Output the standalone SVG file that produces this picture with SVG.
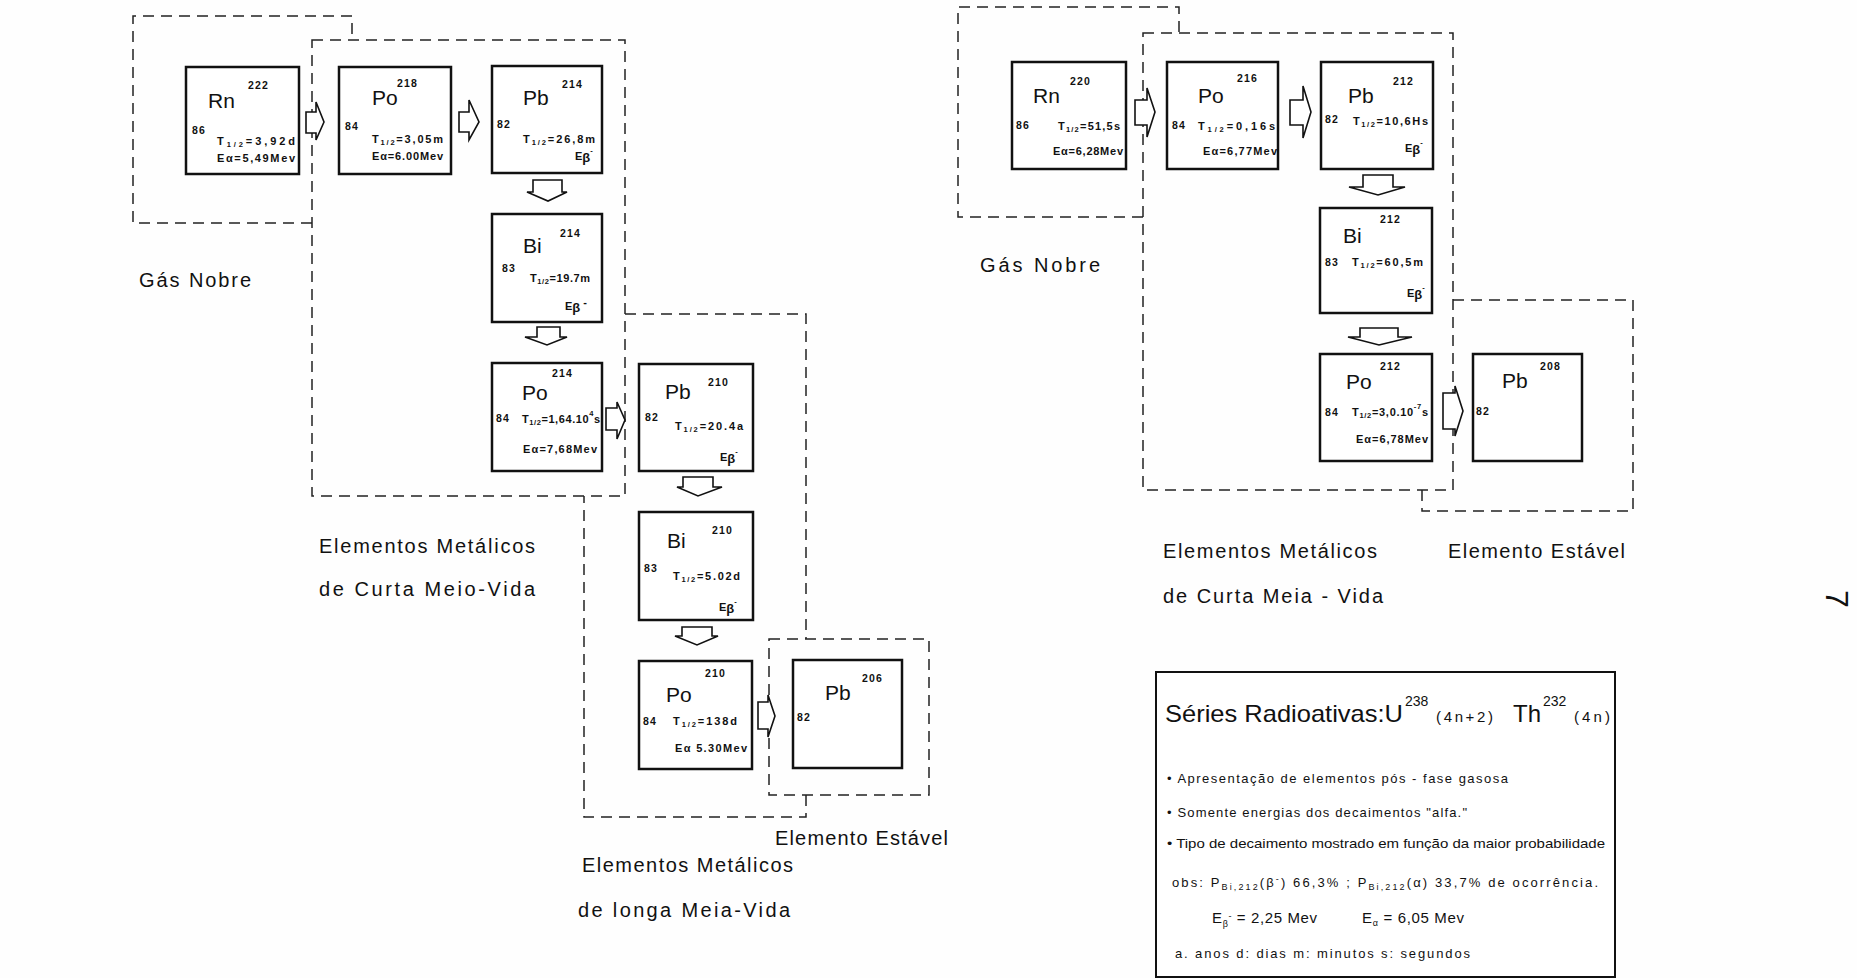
<svg xmlns="http://www.w3.org/2000/svg" width="1857" height="978" viewBox="0 0 1857 978">
<style>
text{font-family:"Liberation Sans",Arial,sans-serif;fill:#111}
.box{fill:#fff;stroke:#111;stroke-width:2.5}
.dash{fill:none;stroke:#222;stroke-width:1.5;stroke-dasharray:11 7}
.arr{fill:#fff;stroke:#111;stroke-width:1.6;stroke-linejoin:miter}
.sym{font-size:21px}
.m{font-size:10.5px;font-weight:bold;letter-spacing:1.2px}
.d{font-size:11px;font-weight:bold}
.e{font-size:11px;font-weight:bold}
.s{font-size:7.5px}
.lb{font-size:20px}
.lg{font-size:13px}
.lgs{font-size:9px}
</style>
<rect width="1857" height="978" fill="#fefefe"/>

<g id="groups">
<path class="dash" d="M312,223 H133 V16 H352 V40"/>
<rect class="dash" x="312" y="40" width="313" height="456"/>
<path class="dash" d="M625,314 H806 V639 M806,795 V817 H584 V496"/>
<rect class="dash" x="769" y="639" width="160" height="156"/>
<path class="dash" d="M1143,217 H958 V7 H1179 V33"/>
<rect class="dash" x="1143" y="33" width="310" height="457"/>
<path class="dash" d="M1453,300 H1633 V511 H1422 V490"/>
</g>

<g id="connectors">
<polygon class="arr" points="306,112 316,112 316,102 324,122 316,140 316,133 306,133"/>
<polygon class="arr" points="459,112 469,112 469,100 479,122 469,140 469,132 459,132"/>
<polygon class="arr" points="533,180 562,180 562,192 567,192 548,201 527,192 533,192"/>
<polygon class="arr" points="537,327 560,327 560,337 567,337 547,345 525,337 537,337"/>
<polygon class="arr" points="606,408 617,408 617,402 625,420 617,439 617,430 606,430"/>
<polygon class="arr" points="683,477 713,477 713,487 722,487 698,496 677,487 683,487"/>
<polygon class="arr" points="682,627 712,627 712,636 718,636 697,645 675,636 682,636"/>
<polygon class="arr" points="758,702 768,702 768,695 775,716 768,737 768,729 758,729"/>
<polygon class="arr" points="1135,100 1147,100 1147,88 1155,112 1147,137 1147,125 1135,125"/>
<polygon class="arr" points="1290,100 1303,100 1303,86 1311,112 1303,138 1303,125 1290,125"/>
<polygon class="arr" points="1363,175 1393,175 1393,187 1405,187 1378,195 1349,187 1363,187"/>
<polygon class="arr" points="1360,328 1398,328 1398,337 1412,337 1379,345 1348,337 1360,337"/>
<polygon class="arr" points="1443,393 1455,393 1455,386 1463,411 1455,436 1455,429 1443,429"/>
</g>

<!-- Left series -->
<g id="rn222">
<rect class="box" x="186" y="67" width="113" height="107"/>
<text class="sym" x="208" y="108">Rn</text>
<text class="m" x="248" y="89">222</text>
<text class="m" x="192" y="134">86</text>
<text class="d" x="217" y="145" textLength="78" lengthAdjust="spacing">T<tspan class="s" dy="2">1/2</tspan><tspan dy="-2">=3,92d</tspan></text>
<text class="d" x="217" y="162" textLength="78" lengthAdjust="spacing">Eα=5,49Mev</text>
</g>
<g id="po218">
<rect class="box" x="339" y="67" width="112" height="107"/>
<text class="sym" x="372" y="105">Po</text>
<text class="m" x="397" y="87">218</text>
<text class="m" x="345" y="130">84</text>
<text class="d" x="372" y="143" textLength="71" lengthAdjust="spacing">T<tspan class="s" dy="2">1/2</tspan><tspan dy="-2">=3,05m</tspan></text>
<text class="d" x="372" y="160" textLength="71" lengthAdjust="spacing">Eα=6.00Mev</text>
</g>
<g id="pb214">
<rect class="box" x="492" y="66" width="110" height="107"/>
<text class="sym" x="523" y="105">Pb</text>
<text class="m" x="562" y="88">214</text>
<text class="m" x="497" y="128">82</text>
<text class="d" x="523" y="143" textLength="72" lengthAdjust="spacing">T<tspan class="s" dy="2">1/2</tspan><tspan dy="-2">=26,8m</tspan></text>
<text class="e" x="575" y="160">E<tspan font-size="13" dy="2">β</tspan><tspan class="s" dy="-9">-</tspan></text>
</g>
<g id="bi214">
<rect class="box" x="492" y="214" width="110" height="108"/>
<text class="sym" x="523" y="253">Bi</text>
<text class="m" x="560" y="237">214</text>
<text class="m" x="502" y="272">83</text>
<text class="d" x="530" y="282" textLength="60" lengthAdjust="spacing">T<tspan class="s" dy="2">1/2</tspan><tspan dy="-2">=19.7m</tspan></text>
<text class="e" x="565" y="310">E<tspan font-size="13" dy="2">β</tspan><tspan dy="-6"> -</tspan></text>
</g>
<g id="po214">
<rect class="box" x="492" y="363" width="110" height="108"/>
<text class="sym" x="522" y="400">Po</text>
<text class="m" x="552" y="377">214</text>
<text class="m" x="496" y="422">84</text>
<text class="d" x="522" y="423" textLength="78" lengthAdjust="spacing">T<tspan class="s" dy="2">1/2</tspan><tspan dy="-2">=1,64.10</tspan><tspan class="s" dy="-7">4</tspan><tspan dy="7">s</tspan></text>
<text class="d" x="523" y="453" textLength="74" lengthAdjust="spacing">Eα=7,68Mev</text>
</g>
<g id="pb210">
<rect class="box" x="639" y="364" width="114" height="107"/>
<text class="sym" x="665" y="399">Pb</text>
<text class="m" x="708" y="386">210</text>
<text class="m" x="645" y="421">82</text>
<text class="d" x="675" y="430" textLength="68" lengthAdjust="spacing">T<tspan class="s" dy="2">1/2</tspan><tspan dy="-2">=20.4a</tspan></text>
<text class="e" x="720" y="461">E<tspan font-size="13" dy="2">β</tspan><tspan class="s" dy="-9">-</tspan></text>
</g>
<g id="bi210">
<rect class="box" x="639" y="512" width="114" height="108"/>
<text class="sym" x="667" y="548">Bi</text>
<text class="m" x="712" y="534">210</text>
<text class="m" x="644" y="572">83</text>
<text class="d" x="673" y="580" textLength="67" lengthAdjust="spacing">T<tspan class="s" dy="2">1/2</tspan><tspan dy="-2">=5.02d</tspan></text>
<text class="e" x="719" y="611">E<tspan font-size="13" dy="2">β</tspan><tspan class="s" dy="-9">-</tspan></text>
</g>
<g id="po210">
<rect class="box" x="639" y="661" width="113" height="108"/>
<text class="sym" x="666" y="702">Po</text>
<text class="m" x="705" y="677">210</text>
<text class="m" x="643" y="725">84</text>
<text class="d" x="673" y="725" textLength="64" lengthAdjust="spacing">T<tspan class="s" dy="2">1/2</tspan><tspan dy="-2">=138d</tspan></text>
<text class="d" x="675" y="752" textLength="72" lengthAdjust="spacing">Eα 5.30Mev</text>
</g>
<g id="pb206">
<rect class="box" x="793" y="660" width="109" height="108"/>
<text class="sym" x="825" y="700">Pb</text>
<text class="m" x="862" y="682">206</text>
<text class="m" x="797" y="721">82</text>
</g>

<!-- Right series -->
<g id="rn220">
<rect class="box" x="1012" y="62" width="114" height="107"/>
<text class="sym" x="1033" y="103">Rn</text>
<text class="m" x="1070" y="85">220</text>
<text class="m" x="1016" y="129">86</text>
<text class="d" x="1058" y="130" textLength="62" lengthAdjust="spacing">T<tspan class="s" dy="2">1/2</tspan><tspan dy="-2">=51,5s</tspan></text>
<text class="d" x="1053" y="155" textLength="70" lengthAdjust="spacing">Eα=6,28Mev</text>
</g>
<g id="po216">
<rect class="box" x="1167" y="62" width="111" height="107"/>
<text class="sym" x="1198" y="103">Po</text>
<text class="m" x="1237" y="82">216</text>
<text class="m" x="1172" y="129">84</text>
<text class="d" x="1198" y="130" textLength="77" lengthAdjust="spacing">T<tspan class="s" dy="2">1/2</tspan><tspan dy="-2">=0,16s</tspan></text>
<text class="d" x="1203" y="155" textLength="74" lengthAdjust="spacing">Eα=6,77Mev</text>
</g>
<g id="pb212">
<rect class="box" x="1321" y="62" width="112" height="107"/>
<text class="sym" x="1348" y="103">Pb</text>
<text class="m" x="1393" y="85">212</text>
<text class="m" x="1325" y="123">82</text>
<text class="d" x="1353" y="125" textLength="75" lengthAdjust="spacing">T<tspan class="s" dy="2">1/2</tspan><tspan dy="-2">=10,6Hs</tspan></text>
<text class="e" x="1405" y="152">E<tspan font-size="13" dy="2">β</tspan><tspan class="s" dy="-9">-</tspan></text>
</g>
<g id="bi212">
<rect class="box" x="1320" y="208" width="112" height="105"/>
<text class="sym" x="1343" y="243">Bi</text>
<text class="m" x="1380" y="223">212</text>
<text class="m" x="1325" y="266">83</text>
<text class="d" x="1352" y="266" textLength="71" lengthAdjust="spacing">T<tspan class="s" dy="2">1/2</tspan><tspan dy="-2">=60,5m</tspan></text>
<text class="e" x="1407" y="297">E<tspan font-size="13" dy="2">β</tspan><tspan class="s" dy="-9">-</tspan></text>
</g>
<g id="po212">
<rect class="box" x="1320" y="354" width="112" height="107"/>
<text class="sym" x="1346" y="389">Po</text>
<text class="m" x="1380" y="370">212</text>
<text class="m" x="1325" y="416">84</text>
<text class="d" x="1352" y="416" textLength="76" lengthAdjust="spacing">T<tspan class="s" dy="2">1/2</tspan><tspan dy="-2">=3,0.10</tspan><tspan class="s" dy="-7">-7</tspan><tspan dy="7">s</tspan></text>
<text class="d" x="1356" y="443" textLength="72" lengthAdjust="spacing">Eα=6,78Mev</text>
</g>
<g id="pb208">
<rect class="box" x="1473" y="354" width="109" height="107"/>
<text class="sym" x="1502" y="388">Pb</text>
<text class="m" x="1540" y="370">208</text>
<text class="m" x="1476" y="415">82</text>
</g>

<g id="labels">
<text class="lb" x="139" y="287" textLength="112" lengthAdjust="spacing">Gás Nobre</text>
<text class="lb" x="319" y="553" textLength="216" lengthAdjust="spacing">Elementos Metálicos</text>
<text class="lb" x="319" y="596" textLength="216" lengthAdjust="spacing">de Curta Meio-Vida</text>
<text class="lb" x="582" y="872" textLength="211" lengthAdjust="spacing">Elementos Metálicos</text>
<text class="lb" x="578" y="917" textLength="212" lengthAdjust="spacing">de longa Meia-Vida</text>
<text class="lb" x="775" y="845" textLength="173" lengthAdjust="spacing">Elemento Estável</text>
<text class="lb" x="980" y="272" textLength="120" lengthAdjust="spacing">Gás Nobre</text>
<text class="lb" x="1163" y="558" textLength="214" lengthAdjust="spacing">Elementos Metálicos</text>
<text class="lb" x="1163" y="603" textLength="220" lengthAdjust="spacing">de Curta Meia - Vida</text>
<text class="lb" x="1448" y="558" textLength="177" lengthAdjust="spacing">Elemento Estável</text>
</g>

<g id="legend">
<rect x="1156" y="672" width="459" height="305" fill="#fff" stroke="#111" stroke-width="2"/>
<text x="1165" y="722" font-size="24" textLength="238" lengthAdjust="spacingAndGlyphs">Séries Radioativas:U</text>
<text x="1405" y="706" font-size="14">238</text>
<text x="1436" y="722" font-size="15" textLength="57" lengthAdjust="spacing">(4n+2)</text>
<text x="1513" y="722" font-size="24">Th</text>
<text x="1543" y="706" font-size="14">232</text>
<text x="1574" y="722" font-size="15" textLength="36" lengthAdjust="spacing">(4n)</text>
<text class="lg" x="1167" y="783" textLength="341" lengthAdjust="spacing">• Apresentação de elementos pós - fase gasosa</text>
<text class="lg" x="1167" y="817" textLength="300" lengthAdjust="spacing">• Somente energias dos decaimentos "alfa."</text>
<text class="lg" x="1167" y="848" textLength="438" lengthAdjust="spacingAndGlyphs">• Tipo de decaimento mostrado em função da maior probabilidade</text>
<text class="lg" x="1172" y="887" textLength="426" lengthAdjust="spacing">obs: P<tspan class="lgs" dy="3">Bi,212</tspan><tspan dy="-3">(β</tspan><tspan class="lgs" dy="-5">-</tspan><tspan dy="5">) 66,3% ; P</tspan><tspan class="lgs" dy="3">Bi,212</tspan><tspan dy="-3">(α) 33,7% de ocorrência.</tspan></text>
<text x="1212" y="923" font-size="15" textLength="105" lengthAdjust="spacing">E<tspan class="lgs" dy="4">β</tspan><tspan class="lgs" dy="-8">-</tspan><tspan dy="4"> = 2,25 Mev</tspan></text>
<text x="1362" y="923" font-size="15" textLength="102" lengthAdjust="spacing">E<tspan class="lgs" dy="3">α</tspan><tspan dy="-3"> = 6,05 Mev</tspan></text>
<text class="lg" x="1175" y="958" textLength="295" lengthAdjust="spacing">a. anos   d: dias   m: minutos   s: segundos</text>
</g>

<text x="1826" y="590" font-size="32" transform="rotate(90 1826 590)">7</text>
</svg>
